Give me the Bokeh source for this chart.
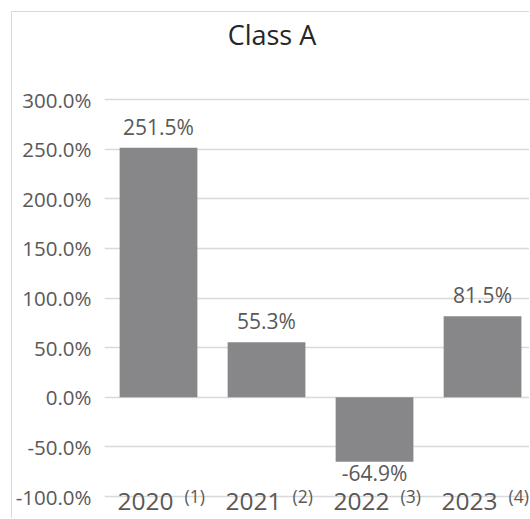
from bokeh.plotting import figure
from bokeh.models import ColumnDataSource, Range1d, FixedTicker, PrintfTickFormatter, Label
from bokeh.core.properties import value
from bokeh.embed import file_html
from bokeh.resources import INLINE

# ---- data ----
title_text = "Class A"
years = ["2020", "2021", "2022", "2023"]
notes = ["(1)", "(2)", "(3)", "(4)"]
returns = [251.5, 55.3, -64.9, 81.5]
y_ticks = [-100, -50, 0, 50, 100, 150, 200, 250, 300]

FONT = "Open Sans"
GREY_TXT = "#595959"

xs = [i + 0.5 for i in range(len(years))]
labels = [f"{v:.1f}%" for v in returns]
offs = [-21 if v >= 0 else 11 for v in returns]
base = [min(y_ticks)] * len(years)

src = ColumnDataSource(dict(x=xs, top=returns, label=labels, off=offs,
                            year=years, note=notes, base=base))

p = figure(width=518, height=507, output_backend="svg", toolbar_location=None,
           title=None,
           x_range=Range1d(0, 3.944), y_range=Range1d(-123.17, 387.66),
           x_axis_location=None,
           min_border_left=92, min_border_right=0, min_border_top=0, min_border_bottom=0)
p.styles = {"margin-left": "11px", "margin-top": "11px",
            "border-left": "1px solid #d9d9d9", "border-top": "1px solid #d9d9d9"}
p.outline_line_color = None
p.background_fill_color = "white"
p.border_fill_color = "white"
p.xgrid.visible = False
p.ygrid.grid_line_color = "#d9d9d9"
p.ygrid.grid_line_width = 1.5
p.yaxis.ticker = FixedTicker(ticks=y_ticks)
p.yaxis.formatter = PrintfTickFormatter(format="%.1f%%")
p.yaxis.axis_line_color = None
p.yaxis.major_tick_line_color = None
p.yaxis.minor_tick_line_color = None
p.yaxis.major_tick_out = 0
p.yaxis.major_tick_in = 0
p.yaxis.major_label_standoff = 13
p.yaxis.major_label_text_font = FONT
p.yaxis.major_label_text_font_size = "20.5px"
p.yaxis.major_label_text_color = GREY_TXT

p.vbar(x="x", top="top", bottom=0, width=0.72, source=src,
       fill_color="#87878a", line_color=None)

p.text(x="x", y="top", text="label", source=src, text_align="center",
       text_baseline="alphabetic", y_offset="off",
       text_font=value(FONT), text_font_size=value("21px"), text_color=GREY_TXT)

p.text(x="x", y="base", text="year", source=src, text_align="right",
       text_baseline="alphabetic", x_offset=15, y_offset=5,
       text_font=value(FONT), text_font_size=value("24.5px"), text_color=GREY_TXT)
p.text(x="x", y="base", text="note", source=src, text_align="left",
       text_baseline="alphabetic", x_offset=26, y_offset=-1,
       text_font=value(FONT), text_font_size=value("17.5px"), text_color=GREY_TXT)

p.add_layout(Label(x=258.5, y=21, x_units="canvas", y_units="canvas", text=title_text,
                   text_align="center", text_baseline="alphabetic",
                   text_font=FONT, text_font_size="27px", text_color="#262626"))

open("out.html", "w").write(file_html(p, INLINE))
